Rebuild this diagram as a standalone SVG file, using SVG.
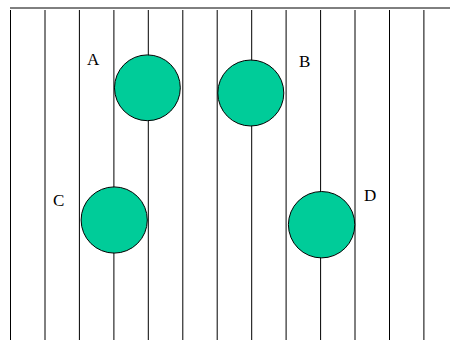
<svg xmlns="http://www.w3.org/2000/svg" width="450" height="341" viewBox="0 0 450 341">
  <style>
    .rule { stroke: #000; stroke-width: 1; fill: none; }
    .node circle { fill: #00CC99; stroke: #000; stroke-width: 1; }
    .label { font-family: "Liberation Serif", "Times New Roman", serif; font-size: 17px; fill: #000; }
  </style>
  <rect width="450" height="341" fill="#fff"/>
  <g id="connectors">
    <line class="rule" x1="10" y1="8" x2="450" y2="8"/>
    <line class="rule" x1="10.5" y1="10" x2="10.5" y2="340"/>
    <line class="rule" x1="45" y1="10" x2="45" y2="340"/>
    <line class="rule" x1="79.4" y1="10" x2="79.4" y2="340"/>
    <line class="rule" x1="113.9" y1="10" x2="113.9" y2="340"/>
    <line class="rule" x1="148.3" y1="10" x2="148.3" y2="340"/>
    <line class="rule" x1="182.8" y1="10" x2="182.8" y2="340"/>
    <line class="rule" x1="217.2" y1="10" x2="217.2" y2="340"/>
    <line class="rule" x1="251.7" y1="10" x2="251.7" y2="340"/>
    <line class="rule" x1="286.1" y1="10" x2="286.1" y2="340"/>
    <line class="rule" x1="320.6" y1="10" x2="320.6" y2="340"/>
    <line class="rule" x1="355" y1="10" x2="355" y2="340"/>
    <line class="rule" x1="389.5" y1="10" x2="389.5" y2="340"/>
    <line class="rule" x1="423.9" y1="10" x2="423.9" y2="340"/>
  </g>
  <g id="node-A" class="node">
    <circle cx="147.4" cy="87.8" r="32.9"/>
    <text class="label" x="87" y="65">A</text>
  </g>
  <g id="node-B" class="node">
    <circle cx="250.8" cy="93" r="33"/>
    <text class="label" x="299" y="66.5">B</text>
  </g>
  <g id="node-C" class="node">
    <circle cx="114.2" cy="220" r="33.1"/>
    <text class="label" x="53" y="205.5">C</text>
  </g>
  <g id="node-D" class="node">
    <circle cx="321.6" cy="224.7" r="33.2"/>
    <text class="label" x="364" y="201">D</text>
  </g>
</svg>
